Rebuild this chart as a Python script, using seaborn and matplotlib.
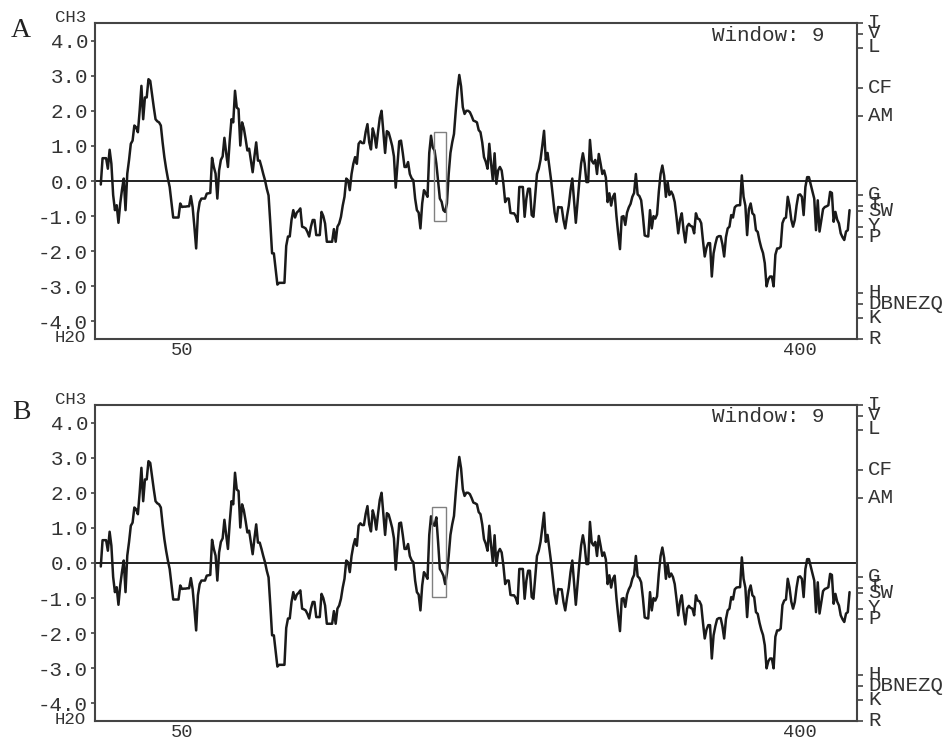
import numpy as np
import pandas as pd
import matplotlib
matplotlib.use("Agg")
import matplotlib.pyplot as plt
import matplotlib.transforms as mtransforms
from matplotlib.patches import Rectangle
import seaborn as sns

# ---------------- data ----------------
first_residue = 4
hydro_a = [
    -0.1, 0.65, 0.65, 0.65, 0.35, 0.89, 0.49, -0.4, -0.83, -0.69,
    -1.19, -0.64, -0.25, 0.07, -0.83, 0.21, 0.6, 1.06, 1.15, 1.58,
    1.53, 1.39, 2.0, 2.71, 1.76, 2.38, 2.38, 2.9, 2.85, 2.47,
    2.1, 1.76, 1.7, 1.67, 1.58, 1.1, 0.68, 0.35, 0.07, -0.17,
    -0.6, -1.04, -1.04, -1.04, -1.04, -0.64, -0.74, -0.73, -0.73, -0.72,
    -0.72, -0.43, -0.74, -1.3, -1.92, -0.92, -0.6, -0.5, -0.5, -0.5,
    -0.36, -0.35, -0.34, 0.66, 0.4, 0.21, -0.5, 0.3, 0.6, 0.7,
    1.23, 0.8, 0.4, 1.15, 1.76, 1.67, 2.57, 2.09, 2.05, 1.01,
    1.67, 1.5, 1.2, 0.87, 0.92, 0.58, 0.25, 0.7, 1.1, 0.58,
    0.58, 0.4, 0.2, 0.02, -0.22, -0.41, -1.2, -2.06, -2.06, -2.5,
    -2.95, -2.9, -2.9, -2.9, -2.9, -1.85, -1.58, -1.58, -1.11, -0.83,
    -1.04, -0.9, -0.85, -0.78, -1.3, -1.32, -1.35, -1.45, -1.58, -1.3,
    -1.11, -1.11, -1.54, -1.54, -1.54, -0.88, -1.0, -1.21, -1.73, -1.73,
    -1.73, -1.73, -1.37, -1.73, -1.3, -1.21, -1.02, -0.7, -0.45, 0.07,
    0.02, -0.26, 0.2, 0.49, 0.68, 0.49, 1.06, 1.13, 1.08, 1.08,
    1.4, 1.62, 1.1, 0.9, 1.5, 1.3, 0.95, 1.4, 1.8, 2.0,
    1.4, 0.8, 1.42, 1.38, 1.2, 1.0, 0.7, -0.19, 0.45, 1.13,
    1.15, 0.8, 0.4, 0.4, 0.54, 0.2, 0.08, 0.02, -0.5, -0.83,
    -0.9, -1.35, -0.64, -0.26, -0.35, -0.45, 0.8, 1.29, 0.95, 0.87,
    0.5, 0.0, -0.5, -0.59, -0.83, -0.88, -0.64, 0.2, 0.8, 1.1,
    1.34, 2.0, 2.6, 3.02, 2.7, 2.1, 1.91, 2.0, 2.0, 1.96,
    1.85, 1.72, 1.7, 1.67, 1.45, 1.39, 1.1, 0.68, 0.55, 0.35,
    1.06, 0.5, 0.02, 0.79, -0.08, 0.3, 0.4, 0.3, -0.08, -0.6,
    -0.5, -0.5, -0.91, -0.92, -0.92, -1.0, -1.16, -0.17, -0.17, -0.17,
    -1.02, -0.5, -0.22, -0.22, -0.97, -1.02, -0.4, 0.2, 0.35, 0.6,
    1.0, 1.43, 0.6, 0.8, 0.4, 0.02, -0.45, -0.9, -1.16, -0.74,
    -0.75, -0.75, -1.11, -1.35, -1.0, -0.7, -0.26, 0.07, -0.55, -1.19,
    -0.6, 0.0, 0.5, 0.79, 0.5, -0.03, -0.03, 1.17, 0.58, 0.5,
    0.6, 0.2, 0.77, 0.5, 0.2, 0.3, 0.1, -0.6, -0.35, -0.7,
    -0.45, -0.36, -1.0, -1.5, -1.94, -1.02, -1.0, -1.25, -0.9, -0.75,
    -0.65, -0.45, -0.34, 0.2, -0.38, -0.43, -0.55, -1.0, -1.55, -1.57,
    -1.58, -0.83, -1.35, -1.0, -1.07, -0.95, -0.3, 0.2, 0.44, 0.15,
    -0.45, -0.03, -0.4, -0.3, -0.4, -0.6, -1.02, -1.49, -1.1, -0.92,
    -1.4, -1.75, -1.3, -1.22, -1.28, -1.3, -1.49, -0.92, -1.07, -1.09,
    -1.2, -1.7, -2.15, -1.9, -1.77, -1.77, -2.72, -2.06, -1.8, -1.6,
    -1.57, -1.57, -1.8, -2.15, -1.6, -1.35, -1.3, -0.97, -1.04, -0.75,
    -0.7, -0.69, -0.69, 0.16, -0.45, -0.7, -1.54, -0.8, -0.64, -0.92,
    -0.97, -1.4, -1.45, -1.7, -1.9, -2.05, -2.34, -3.0, -2.8, -2.72,
    -2.72, -3.0, -2.1, -1.92, -1.92, -1.87, -1.2, -1.07, -1.04, -0.45,
    -0.7, -1.1, -1.3, -1.11, -0.7, -0.4, -0.38, -0.45, -0.97, -0.17,
    0.11, 0.11, -0.1, -0.3, -0.5, -1.4, -0.55, -1.44, -1.11, -0.8,
    -0.74, -0.72, -0.69, -0.31, -0.34, -1.16, -0.88, -1.1, -1.21, -1.49,
    -1.6, -1.68, -1.44, -1.4, -0.83,
]
# panel B differs from A only inside the boxed segment
b_segment_start = 190
b_segment = [0.8, 1.33, 1.1, 1.06, 1.3, 0.6, -0.17, -0.25, -0.36, -0.6, -0.3]

# boxes (x0, x1, y0, y1)
box_a = (192.5, 199.4, -1.14, 1.41)
box_b = (191.5, 199.5, -0.96, 1.59)

y_ticks = [4.0, 3.0, 2.0, 1.0, 0.0, -1.0, -2.0, -3.0, -4.0]
y_tick_labels = ["4.0", "3.0", "2.0", "1.0", "0.0", "-1.0", "-2.0", "-3.0", "-4.0"]
x_ticks = [50, 100, 150, 200, 250, 300, 350, 400]
x_tick_labels = ["50", "", "", "", "", "", "", "400"]
kd_values = [4.5, 4.2, 3.8, 2.65, 1.85, -0.4, -0.7, -0.85, -1.3, -1.6, -3.2, -3.5, -3.9, -4.5]
kd_labels = ["I", "V", "L", "CF", "AM", "G", "T", "SW", "Y", "P", "H", "DBNEZQ", "K", "R"]
panel_letters = ["A", "B"]
window_text = "Window: 9"

residues = np.arange(first_residue, first_residue + len(hydro_a))
hydro_b = list(hydro_a)
for i, v in enumerate(b_segment):
    hydro_b[b_segment_start + i - first_residue] = v

# ---------------- style ----------------
sns.set_style("white")
plt.rcParams["font.family"] = ["Liberation Mono", "DejaVu Sans"]
TXT = "#333333"

fig = plt.figure(figsize=(9.44, 7.42), dpi=100)
axes = [fig.add_axes([0.1006, 0.5431, 0.8072, 0.4259]),
        fig.add_axes([0.1006, 0.0283, 0.8072, 0.4259])]

for ax, vals, box, letter in zip(axes, [hydro_a, hydro_b], [box_a, box_b], panel_letters):
    df = pd.DataFrame({"res": residues, "h": vals})
    sns.lineplot(data=df, x="res", y="h", ax=ax, color="#1a1a1a", lw=1.8)
    ax.axhline(0, color="#111111", lw=1.3, zorder=1)
    ax.add_patch(Rectangle((box[0], box[2]), box[1] - box[0], box[3] - box[2],
                           fill=False, edgecolor="#808080", lw=1.0, zorder=3))
    ax.set_xlim(0.7, 432.2)
    ax.set_ylim(-4.5, 4.5)
    ax.set_xlabel("")
    ax.set_ylabel("")
    ax.set_yticks(y_ticks)
    ax.set_yticklabels(y_tick_labels)
    ax.set_xticks(x_ticks)
    ax.set_xticklabels(x_tick_labels)
    ax.tick_params(axis="y", direction="out", length=3, width=1.2, pad=2,
                   colors="#444444", labelcolor=TXT, labelsize=15)
    ax.tick_params(axis="x", direction="out", length=5, width=1.2, pad=-3,
                   colors="#444444", labelcolor=TXT, labelsize=13.5)
    for s in ax.spines.values():
        s.set_visible(True)
        s.set_color("#444444")
        s.set_linewidth(1.5)

    ax2 = ax.twinx()
    ax2.set_ylim(-4.5, 4.5)
    ax2.set_yticks(kd_values)
    ax2.set_yticklabels(kd_labels)
    ax2.tick_params(axis="y", direction="out", length=4, width=1.2, pad=4,
                    colors="#444444", labelcolor=TXT, labelsize=15)
    for s in ax2.spines.values():
        s.set_visible(False)
    off = mtransforms.ScaledTranslation(0, 2 / 72, fig.dpi_scale_trans)
    for lab in ax2.get_yticklabels():
        lab.set_transform(lab.get_transform() + off)

    ax.text(0.957, 0.962, window_text, transform=ax.transAxes, ha="right",
            va="center", fontsize=15, color=TXT)
    ax.text(-0.012, 1.016, "CH3", transform=ax.transAxes, ha="right",
            va="center", fontsize=12.5, color=TXT)
    ax.text(-0.012, 0.006, "H2O", transform=ax.transAxes, ha="right",
            va="center", fontsize=12.5, color=TXT)
    ax.text(-0.097, 0.975, letter, transform=ax.transAxes, ha="center",
            va="center", fontsize=20, color="#222222", family="Liberation Serif")

fig.savefig("out.png", dpi=100)
